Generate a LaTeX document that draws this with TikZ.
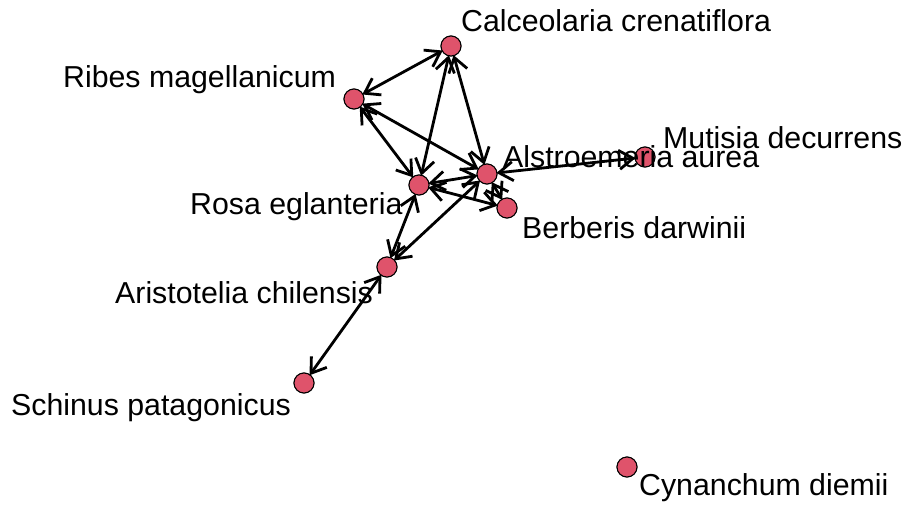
\documentclass[tikz,border=0pt]{standalone}
\usepackage{fontspec}
\setmainfont{Liberation Sans}
\usetikzlibrary{arrows.meta}
\definecolor{vcol}{HTML}{DF536B}
\tikzset{
  vertex/.style={circle, draw=black, line width=1pt, fill=vcol, minimum size=20pt, inner sep=0pt},
  lab/.style={inner sep=0pt, anchor=base west, font=\fontsize{30.3}{36}\selectfont, text=black},
  barb/.tip={Straight Barb[length=14pt,width=19pt,line width=2.8pt]},
  edge/.style={line width=2.8pt, black, barb-barb, shorten <=-1pt, shorten >=-1pt}
}
\begin{document}
\begin{tikzpicture}[x=1pt,y=-1pt]
\useasboundingbox (0,0) rectangle (908,506);
% vertices
\node[vertex] (cal) at (451,46) {};
\node[vertex] (rib) at (354,99) {};
\node[vertex] (ros) at (419,185) {};
\node[vertex] (als) at (487,174) {};
\node[vertex] (ber) at (507,208) {};
\node[vertex] (mut) at (645,157) {};
\node[vertex] (ari) at (387,267) {};
\node[vertex] (sch) at (304,383) {};
\node[vertex] (cyn) at (627,467) {};
% edges
\draw[edge] (cal) -- (rib);
\draw[edge] (cal) -- (ros);
\draw[edge] (cal) -- (als);
\draw[edge] (rib) -- (ros);
\draw[edge] (rib) -- (als);
\draw[edge] (ros) -- (als);
\draw[edge] (ros) -- (ber);
\draw[edge] (als) -- (ber);
\draw[edge] (als) -- (mut);
\draw[edge] (ros) -- (ari);
\draw[edge] (als) -- (ari);
\draw[edge] (ari) -- (sch);
% redraw vertices on top of edges
\foreach \n in {cal,rib,ros,als,ber,mut,ari,sch,cyn}{
  \draw[line width=1pt, fill=vcol] (\n.center) circle (10pt);
}
% labels
\node[lab] (lcal) at (461,31) {Calceolaria crenatiflora};
\node[lab] (lrib) at (63,87) {Ribes magellanicum};
\node[lab] (lros) at (190,214) {Rosa eglanteria};
\node[lab] (lals) at (503,167) {Alstroemeria aurea};
\node[lab] (lber) at (522,238) {Berberis darwinii};
\node[lab] (lmut) at (663,148) {Mutisia decurrens};
\node[lab] (lari) at (115,303) {Aristotelia chilensis};
\node[lab] (lsch) at (11,415) {Schinus patagonicus};
\node[lab] (lcyn) at (639,495) {Cynanchum diemii};
\end{tikzpicture}
\end{document}
